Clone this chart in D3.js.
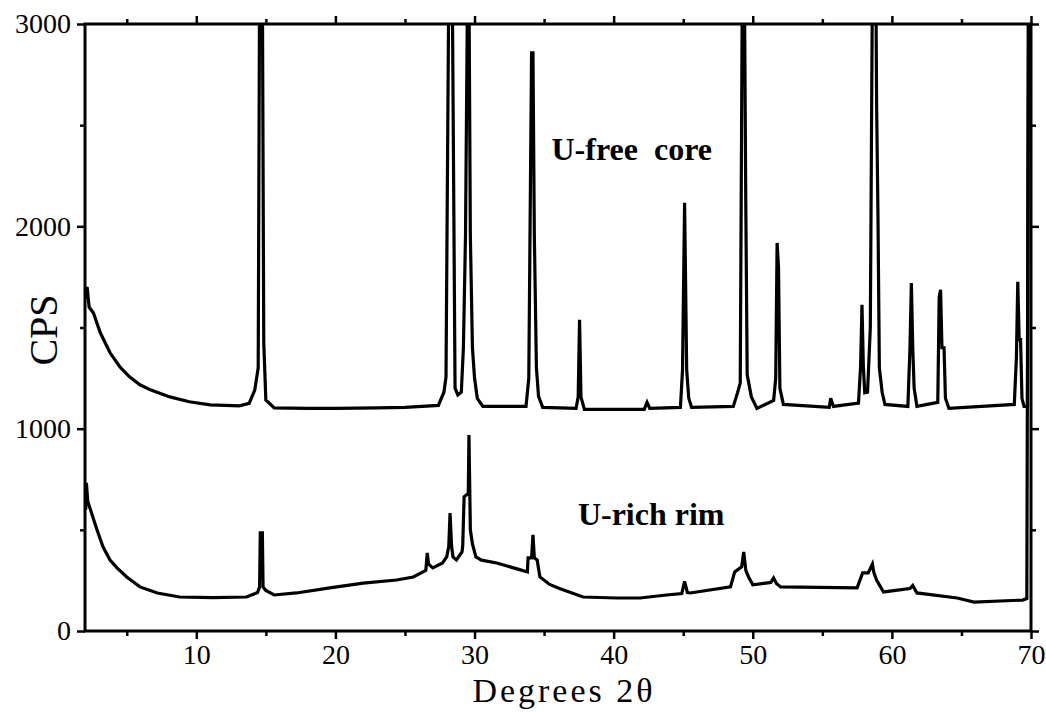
<!DOCTYPE html>
<html>
<head>
<meta charset="utf-8">
<script src="https://cdn.jsdelivr.net/npm/d3@7"></script>
<style>
  body { margin: 0; background: #fff; }
  svg { display: block; }
  .axis text { font-family: "Liberation Serif", "Times New Roman", serif; font-size: 28px; fill: #000; }
  .axis line { stroke: #000; stroke-width: 2.5; }
  .axis path { display: none; }
  .axis-label { font-family: "Liberation Serif", "Times New Roman", serif; font-size: 40px; fill: #000; }
  .trace-label { font-family: "Liberation Serif", "Times New Roman", serif; font-size: 32px; font-weight: bold; fill: #000; white-space: pre; }
</style>
</head>
<body>
<div id="chart"></div>
<script>
// x = degrees 2-theta, y = counts per second
const coreTrace = [
  [2.05, 1640], [2.15, 1700], [2.3, 1600], [2.6, 1573], [3.1, 1474], [3.8, 1375],
  [4.5, 1306], [5.2, 1256], [5.95, 1217], [6.7, 1192], [8.1, 1157], [9.5, 1133],
  [11.0, 1118], [13.1, 1113], [13.8, 1125], [14.2, 1190], [14.45, 1300], [14.55, 3200],
  [14.75, 3200], [14.85, 1424], [15.0, 1142], [15.6, 1103], [18.0, 1100], [20.0, 1100],
  [23.0, 1103], [25.0, 1105], [27.4, 1115], [27.8, 1180], [27.95, 1256], [28.15, 3200],
  [28.4, 3200], [28.6, 1200], [28.8, 1167], [29.05, 1180], [29.2, 1400], [29.35, 1950],
  [29.5, 3200], [29.6, 3200], [29.7, 1950], [29.85, 1400], [30.0, 1250], [30.2, 1150],
  [30.6, 1110], [33.7, 1110], [33.9, 1250], [34.1, 2858], [34.2, 2858], [34.3, 1950],
  [34.45, 1300], [34.6, 1160], [34.9, 1105], [37.3, 1100], [37.45, 1157], [37.55, 1538],
  [37.65, 1157], [37.9, 1095], [42.2, 1095], [42.4, 1130], [42.6, 1100], [44.8, 1105],
  [44.95, 1290], [45.1, 2116], [45.25, 1290], [45.4, 1150], [45.6, 1105], [48.6, 1110],
  [48.9, 1177], [49.1, 1226], [49.25, 3200], [49.4, 3200], [49.5, 2100], [49.6, 1266],
  [49.9, 1157], [50.3, 1100], [51.5, 1140], [51.65, 1250], [51.75, 1918], [51.85, 1800],
  [51.95, 1200], [52.2, 1120], [55.5, 1105], [55.6, 1150], [55.8, 1110], [57.6, 1127],
  [57.75, 1306], [57.85, 1612], [57.95, 1306], [58.05, 1177], [58.25, 1180], [58.45, 1500],
  [58.6, 3200], [58.85, 3200], [58.9, 2620], [59.0, 2050], [59.1, 1300], [59.3, 1180],
  [59.5, 1120], [61.15, 1110], [61.3, 1400], [61.4, 1720], [61.5, 1400], [61.6, 1200],
  [61.8, 1110], [63.3, 1130], [63.4, 1650], [63.5, 1686], [63.6, 1400], [63.75, 1400],
  [63.85, 1150], [64.1, 1100], [68.8, 1120], [68.95, 1350], [69.05, 1726], [69.15, 1440],
  [69.25, 1440], [69.35, 1150], [69.5, 1110], [69.75, 1110], [69.82, 3200], [70.0, 3200]
];

const rimTrace = [
  [2.05, 600], [2.1, 732], [2.2, 640], [2.4, 598], [2.86, 500], [3.3, 415],
  [3.8, 351], [4.3, 312], [5.0, 267], [5.95, 218], [7.2, 188], [8.8, 168],
  [11.2, 165], [13.6, 168], [14.4, 190], [14.55, 218], [14.6, 485], [14.75, 485],
  [14.8, 218], [15.0, 200], [15.6, 178], [17.2, 188], [19.6, 213], [22.0, 237],
  [24.4, 252], [25.6, 267], [26.3, 292], [26.5, 300], [26.6, 386], [26.7, 330],
  [27.0, 312], [27.7, 336], [28.0, 366], [28.15, 420], [28.24, 583], [28.35, 420],
  [28.45, 366], [28.7, 351], [29.1, 391], [29.15, 420], [29.25, 663], [29.55, 680],
  [29.6, 969], [29.7, 500], [29.85, 430], [30.1, 366], [30.5, 350], [31.6, 336],
  [33.3, 302], [33.8, 292], [33.85, 361], [34.1, 361], [34.2, 475], [34.3, 361],
  [34.5, 351], [34.7, 267], [35.4, 230], [36.1, 210], [37.8, 168], [40.2, 163],
  [41.9, 163], [43.8, 178], [44.9, 185], [45.1, 245], [45.3, 190], [45.5, 188],
  [48.4, 218], [48.7, 292], [49.2, 317], [49.35, 391], [49.5, 300], [49.7, 267],
  [50.0, 228], [51.3, 240], [51.5, 262], [51.7, 235], [52.0, 218], [57.5, 213],
  [57.9, 287], [58.3, 287], [58.6, 331], [58.7, 290], [58.9, 252], [59.4, 193],
  [61.3, 210], [61.5, 225], [61.8, 188], [64.7, 163], [65.9, 143], [69.4, 153],
  [69.7, 160], [69.82, 3200], [70.0, 3200]
];

const xMajorTicks = [10, 20, 30, 40, 50, 60, 70];
const xMinorTicks = [5, 15, 25, 35, 45, 55, 65];
const yMajorTicks = [0, 1000, 2000, 3000];
const yMinorTicks = [500, 1500, 2500];

const traceLabels = [
  { text: "U-free  core", x: 41.3, y: 2330 },
  { text: "U-rich rim", x: 42.7, y: 524 }
];

const W = 1046, H = 712;
const margin = { top: 24, right: 15, bottom: 81, left: 85 };
const width = W - margin.left - margin.right;
const height = H - margin.top - margin.bottom;

const svg = d3.select("#chart")
  .append("svg")
  .attr("width", W)
  .attr("height", H)
  .append("g")
  .attr("transform", `translate(${margin.left},${margin.top})`);

const xScale = d3.scaleLinear().domain([2, 70]).range([0, width]);
const yScale = d3.scaleLinear().domain([0, 3000]).range([height, 0]);

svg.append("clipPath")
  .attr("id", "plot-clip")
  .append("rect")
  .attr("width", width)
  .attr("height", height);

// axes on all four sides, ticks pointing outward
const fmt = d3.format("d");
svg.append("g").attr("class", "axis")
  .attr("transform", `translate(0,${height})`)
  .call(d3.axisBottom(xScale).tickValues(xMajorTicks).tickSize(8).tickPadding(5).tickFormat(fmt));
svg.append("g").attr("class", "axis")
  .attr("transform", `translate(0,${height})`)
  .call(d3.axisBottom(xScale).tickValues(xMinorTicks).tickSize(5).tickFormat(""));
svg.append("g").attr("class", "axis")
  .call(d3.axisTop(xScale).tickValues(xMajorTicks).tickSize(8).tickFormat(""));
svg.append("g").attr("class", "axis")
  .call(d3.axisTop(xScale).tickValues(xMinorTicks).tickSize(5).tickFormat(""));

svg.append("g").attr("class", "axis")
  .call(d3.axisLeft(yScale).tickValues(yMajorTicks).tickSize(8).tickPadding(6).tickFormat(fmt));
svg.append("g").attr("class", "axis")
  .call(d3.axisLeft(yScale).tickValues(yMinorTicks).tickSize(5).tickFormat(""));
svg.append("g").attr("class", "axis")
  .attr("transform", `translate(${width},0)`)
  .call(d3.axisRight(yScale).tickValues(yMajorTicks).tickSize(8).tickFormat(""));
svg.append("g").attr("class", "axis")
  .attr("transform", `translate(${width},0)`)
  .call(d3.axisRight(yScale).tickValues(yMinorTicks).tickSize(5).tickFormat(""));

svg.append("rect")
  .attr("width", width)
  .attr("height", height)
  .attr("fill", "none")
  .attr("stroke", "#000")
  .attr("stroke-width", 3);

const line = d3.line()
  .x((d) => xScale(d[0]))
  .y((d) => yScale(d[1]));

[coreTrace, rimTrace].forEach((trace) => {
  svg.append("path")
    .datum(trace)
    .attr("clip-path", "url(#plot-clip)")
    .attr("fill", "none")
    .attr("stroke", "#000")
    .attr("stroke-width", 3.2)
    .attr("stroke-linejoin", "miter")
    .attr("d", line);
});

svg.selectAll(".trace-label")
  .data(traceLabels)
  .enter()
  .append("text")
  .attr("class", "trace-label")
  .attr("x", (d) => xScale(d.x))
  .attr("y", (d) => yScale(d.y))
  .attr("text-anchor", "middle")
  .text((d) => d.text);

svg.append("text")
  .attr("class", "axis-label")
  .attr("x", 564 - margin.left)
  .attr("y", 702 - margin.top)
  .attr("text-anchor", "middle")
  .style("font-size", "34px")
  .style("letter-spacing", "3px")
  .text("Degrees 2θ");

svg.append("text")
  .attr("class", "axis-label")
  .attr("transform", "rotate(-90)")
  .attr("x", -(330 - margin.top))
  .attr("y", 57 - margin.left)
  .attr("text-anchor", "middle")
  .text("CPS");
</script>
</body>
</html>
